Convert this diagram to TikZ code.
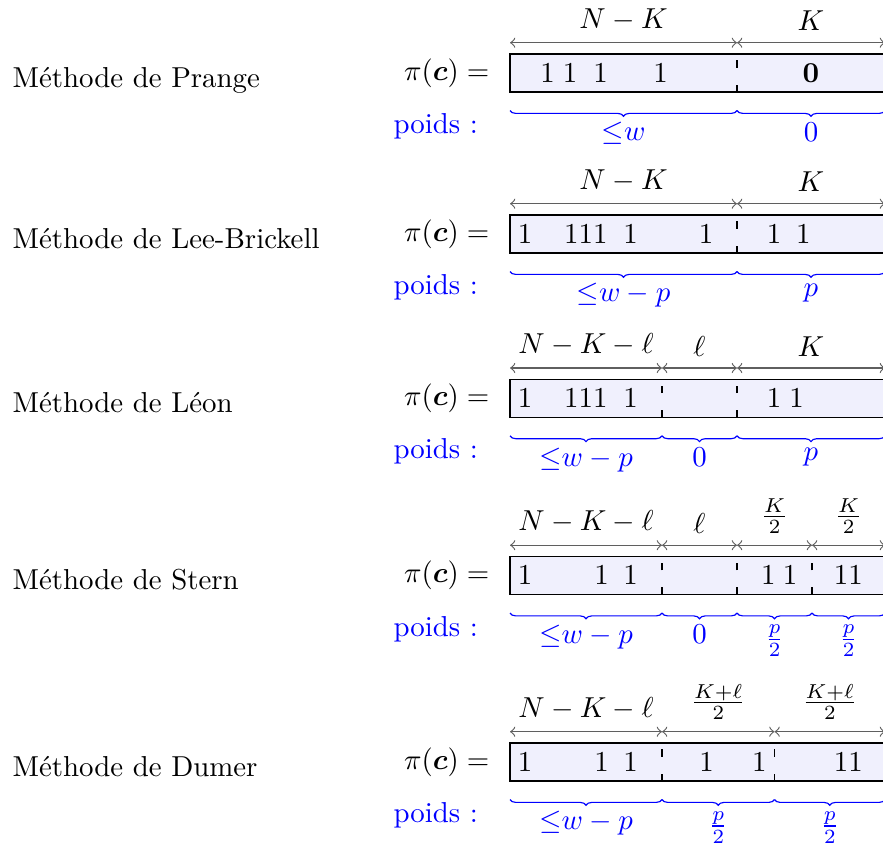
\documentclass[tikz,border=0pt]{standalone}
\usepackage{amsmath,amssymb}
\usetikzlibrary{decorations.pathreplacing}
\definecolor{vecFill}{RGB}{240,240,253}
\definecolor{vecLine}{RGB}{95,95,95}

\begin{document}
\begin{tikzpicture}[
    x=0.3466pt,y=-0.3466pt,
    meth/.style={anchor=base west,inner sep=0pt},
    eqn/.style={anchor=base east,inner sep=0pt},
    poids/.style={anchor=base west,inner sep=0pt,text=blue},
    vect/.style={draw=black,fill=vecFill,line width=0.4pt},
    bit/.style={anchor=base,inner sep=0pt},
    cut/.style={draw=black,dash pattern=on 2.6pt off 5.8pt,line width=0.4pt},
    dim/.style={<->,draw=vecLine,line width=0.4pt},
    toplab/.style={anchor=south,inner sep=0pt,yshift=3.9pt},
    acc/.style={draw=blue,line width=0.4pt,decorate,decoration={brace,mirror,amplitude=2pt}},
    botlab/.style={anchor=north,inner sep=2pt,yshift=-2pt,text=blue}
  ]
    \useasboundingbox (0,0) rectangle (883,843);

    % Prange
    \node[meth]  (m1) at (12,87)    {Méthode de Prange};
    \node[eqn]   (e1) at (490,80.2) {$\pi(\boldsymbol{c}) =$};
    \node[poids] (p1) at (393,133.5){poids :};
    \draw[vect] (510,54) rectangle (885,92);
    \draw[cut] (737,92) -- (737,54);
    \coordinate (a11) at (510,42.7);
    \coordinate (a12) at (737,42.7);
    \coordinate (a13) at (885,42.7);
    \draw[dim] (a11) -- node[toplab] (t11) {$N-K$} (a12);
    \draw[dim] (a12) -- node[toplab] (t12) {$K$} (a13);
    \foreach \x/\b [count=\i] in {547.5/1,570/1,600.7/1,660.7/1,811/{$\mathbf{0}$}}
      \node[bit] (r1b\i) at (\x,82.3) {\b};
    \coordinate (u11) at (510,110.5);
    \coordinate (u12) at (737,110.5);
    \coordinate (u13) at (885,110.5);
    \draw[acc] (u11) -- node[botlab] (l11) {${\leq}w$} (u12);
    \draw[acc] (u12) -- node[botlab] (l12) {$0$} (u13);

    % Lee-Brickell
    \node[meth]  (m2) at (12,248)    {Méthode de Lee-Brickell};
    \node[eqn]   (e2) at (490,241.2) {$\pi(\boldsymbol{c}) =$};
    \node[poids] (p2) at (393,294.5) {poids :};
    \draw[vect] (510,215) rectangle (885,253);
    \draw[cut] (737,253) -- (737,215);
    \coordinate (a21) at (510,203.7);
    \coordinate (a22) at (737,203.7);
    \coordinate (a23) at (885,203.7);
    \draw[dim] (a21) -- node[toplab] (t21) {$N-K$} (a22);
    \draw[dim] (a22) -- node[toplab] (t22) {$K$} (a23);
    \foreach \x/\b [count=\i] in {525/1,585.8/111,630.7/1,706/1,774/1,803.3/1}
      \node[bit] (r2b\i) at (\x,243.3) {\b};
    \coordinate (u21) at (510,271.5);
    \coordinate (u22) at (737,271.5);
    \coordinate (u23) at (885,271.5);
    \draw[acc] (u21) -- node[botlab] (l21) {${\leq}w-p$} (u22);
    \draw[acc] (u22) -- node[botlab] (l22) {$p$} (u23);

    % Leon
    \node[meth]  (m3) at (12,412.3)  {Méthode de Léon};
    \node[eqn]   (e3) at (490,405.5) {$\pi(\boldsymbol{c}) =$};
    \node[poids] (p3) at (393,458.8) {poids :};
    \draw[vect] (510,379.3) rectangle (885,417.3);
    \draw[cut] (662,417.3) -- (662,379.3);
    \draw[cut] (737,417.3) -- (737,379.3);
    \coordinate (a31) at (510,368);
    \coordinate (a32) at (662,368);
    \coordinate (a33) at (737,368);
    \coordinate (a34) at (885,368);
    \draw[dim] (a31) -- node[toplab] (t31) {$N-K-\ell$} (a32);
    \draw[dim] (a32) -- node[toplab] (t32) {$\ell$} (a33);
    \draw[dim] (a33) -- node[toplab] (t33) {$K$} (a34);
    \foreach \x/\b [count=\i] in {525/1,585.8/111,630.7/1,774/1,796.7/1}
      \node[bit] (r3b\i) at (\x,407.6) {\b};
    \coordinate (u31) at (510,435.8);
    \coordinate (u32) at (662,435.8);
    \coordinate (u33) at (737,435.8);
    \coordinate (u34) at (885,435.8);
    \draw[acc] (u31) -- node[botlab] (l31) {${\leq}w-p$} (u32);
    \draw[acc] (u32) -- node[botlab] (l32) {$0$} (u33);
    \draw[acc] (u33) -- node[botlab] (l33) {$p$} (u34);

    % Stern
    \node[meth]  (m4) at (12,589.5)  {Méthode de Stern};
    \node[eqn]   (e4) at (490,582.7) {$\pi(\boldsymbol{c}) =$};
    \node[poids] (p4) at (393,636)   {poids :};
    \draw[vect] (510,556.5) rectangle (885,594.5);
    \draw[cut] (662,594.5) -- (662,556.5);
    \draw[cut] (737,594.5) -- (737,556.5);
    \draw[cut] (812,594.5) -- (812,556.5);
    \coordinate (a41) at (510,545.2);
    \coordinate (a42) at (662,545.2);
    \coordinate (a43) at (737,545.2);
    \coordinate (a44) at (812,545.2);
    \coordinate (a45) at (885,545.2);
    \draw[dim] (a41) -- node[toplab] (t41) {$N-K-\ell$} (a42);
    \draw[dim] (a42) -- node[toplab] (t42) {$\ell$} (a43);
    \draw[dim] (a43) -- node[toplab] (t43) {$\frac{K}{2}$} (a44);
    \draw[dim] (a44) -- node[toplab] (t44) {$\frac{K}{2}$} (a45);
    \foreach \x/\b [count=\i] in {525/1,601.7/1,630.7/1,768.3/1,790/1,848.3/11}
      \node[bit] (r4b\i) at (\x,584.8) {\b};
    \coordinate (u41) at (510,613);
    \coordinate (u42) at (662,613);
    \coordinate (u43) at (737,613);
    \coordinate (u44) at (812,613);
    \coordinate (u45) at (885,613);
    \draw[acc] (u41) -- node[botlab] (l41) {${\leq}w-p$} (u42);
    \draw[acc] (u42) -- node[botlab] (l42) {$0$} (u43);
    \draw[acc] (u43) -- node[botlab] (l43) {$\frac{p}{2}$} (u44);
    \draw[acc] (u44) -- node[botlab] (l44) {$\frac{p}{2}$} (u45);

    % Dumer
    \node[meth]  (m5) at (12,776)    {Méthode de Dumer};
    \node[eqn]   (e5) at (490,769.2) {$\pi(\boldsymbol{c}) =$};
    \node[poids] (p5) at (393,822.5) {poids :};
    \draw[vect] (510,743) rectangle (885,781);
    \draw[cut] (662,781) -- (662,743);
    \draw[cut] (774.5,781) -- (774.5,743);
    \coordinate (a51) at (510,731.7);
    \coordinate (a52) at (662,731.7);
    \coordinate (a53) at (774.5,731.7);
    \coordinate (a54) at (885,731.7);
    \draw[dim] (a51) -- node[toplab] (t51) {$N-K-\ell$} (a52);
    \draw[dim] (a52) -- node[toplab] (t52) {$\frac{K+\ell}{2}$} (a53);
    \draw[dim] (a53) -- node[toplab] (t53) {$\frac{K+\ell}{2}$} (a54);
    \foreach \x/\b [count=\i] in {525/1,601.7/1,630.7/1,706.7/1,759.3/1,848.3/11}
      \node[bit] (r5b\i) at (\x,771.3) {\b};
    \coordinate (u51) at (510,799.5);
    \coordinate (u52) at (662,799.5);
    \coordinate (u53) at (774.5,799.5);
    \coordinate (u54) at (885,799.5);
    \draw[acc] (u51) -- node[botlab] (l51) {${\leq}w-p$} (u52);
    \draw[acc] (u52) -- node[botlab] (l52) {$\frac{p}{2}$} (u53);
    \draw[acc] (u53) -- node[botlab] (l53) {$\frac{p}{2}$} (u54);
\end{tikzpicture}
\end{document}
